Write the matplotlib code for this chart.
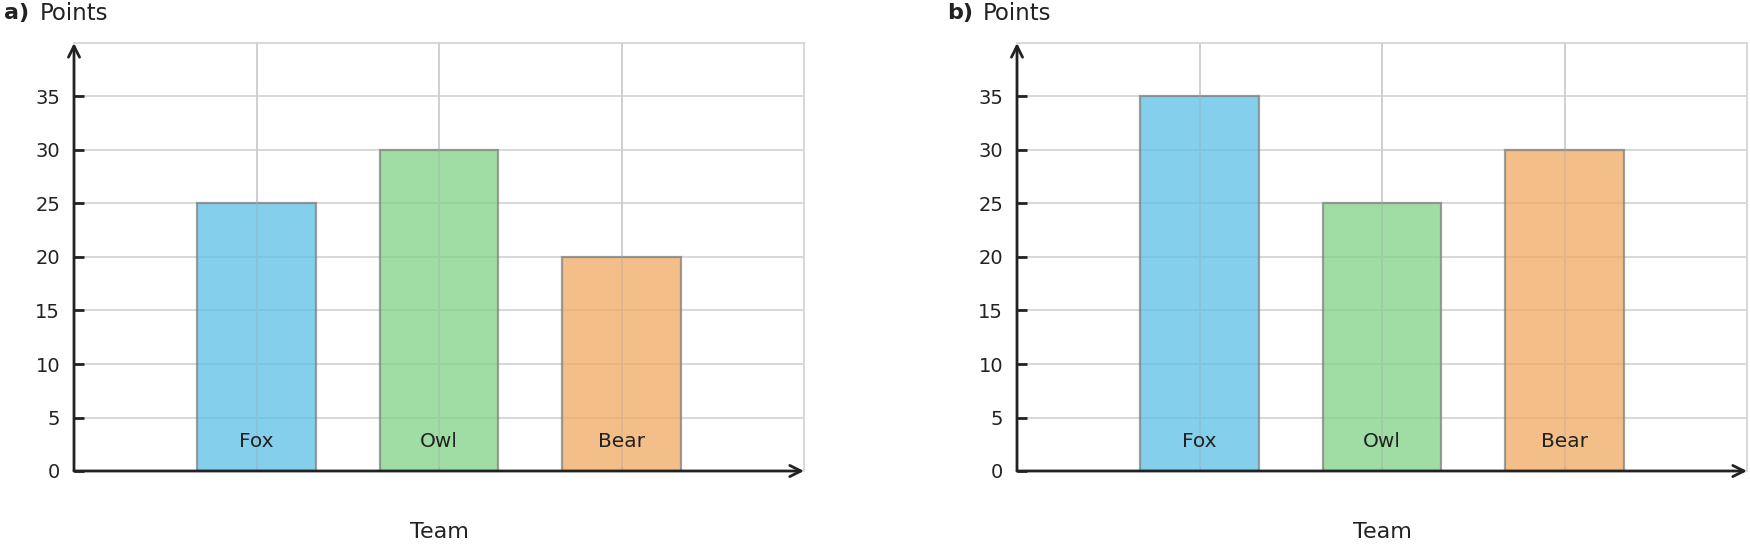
import matplotlib.pyplot as plt

plt.rcParams["font.family"] = ["DejaVu Sans"]

teams = ["Fox", "Owl", "Bear"]
points_a = [25, 30, 20]
points_b = [35, 25, 30]
yticks = [0, 5, 10, 15, 20, 25, 30, 35]
colors = ["#5bc0e6", "#7fd287", "#f0a860"]

W, H = 1750, 548
fig = plt.figure(figsize=(W / 100, H / 100), dpi=100)
ax_a = fig.add_axes([74 / W, 77 / H, 730 / W, 428 / H])
ax_b = fig.add_axes([1017 / W, 77 / H, 730 / W, 428 / H])

DARK = "#222222"
GRID = "#d6d6d6"


def draw_panel(ax, values, tag):
    x = list(range(len(teams)))
    ax.set_axisbelow(True)
    ax.grid(color=GRID, linewidth=1.3)
    ax.bar(x, values, width=0.65, color=colors, alpha=0.75,
           edgecolor="#808080", linewidth=1.6, zorder=2)
    # grid shows through the bars a little
    for xi in x:
        ax.axvline(xi, color="#bbbbbb", linewidth=1.3, alpha=0.3, zorder=3)
    for xi, name in zip(x, teams):
        ax.text(xi, 2.75, name, ha="center", va="center", fontsize=14.5,
                color=DARK, zorder=4)

    ax.set_xlim(-1, 3)
    ax.set_ylim(0, 40)
    ax.set_xticks(x)
    ax.set_xticklabels([])
    ax.set_yticks(yticks)
    ax.set_yticklabels([str(v) for v in yticks], fontsize=14, color=DARK)
    ax.tick_params(axis="x", direction="in", length=3, color="#999999")
    ax.tick_params(axis="y", direction="in", length=7, width=2, color=DARK, pad=10)

    for s in ["top", "right"]:
        ax.spines[s].set_color(GRID)
        ax.spines[s].set_linewidth(1.3)
    for s in ["left", "bottom"]:
        ax.spines[s].set_visible(False)

    # axis lines with arrow heads
    arrow = dict(arrowstyle="->", color=DARK, lw=2, mutation_scale=20,
                 shrinkA=0, shrinkB=0)
    ax.annotate("", xy=(1.0, 0), xytext=(0, 0), xycoords="axes fraction",
                arrowprops=arrow, annotation_clip=False, zorder=5)
    ax.annotate("", xy=(0, 1.0), xytext=(0, 0), xycoords="axes fraction",
                arrowprops=arrow, annotation_clip=False, zorder=5)

    ax.set_xlabel("Team", fontsize=16, color=DARK, labelpad=33)
    # panel tag + y label at top left
    x0 = ax.get_position().x0
    fig.text(x0 - 70 / W, 1 - 13 / H, tag, fontsize=16, fontweight="bold",
             color=DARK, va="center", ha="left")
    fig.text(x0 - 34 / W, 1 - 13 / H, "Points", fontsize=16.5,
             color=DARK, va="center", ha="left")


draw_panel(ax_a, points_a, "a)")
draw_panel(ax_b, points_b, "b)")

plt.savefig("out.png")
